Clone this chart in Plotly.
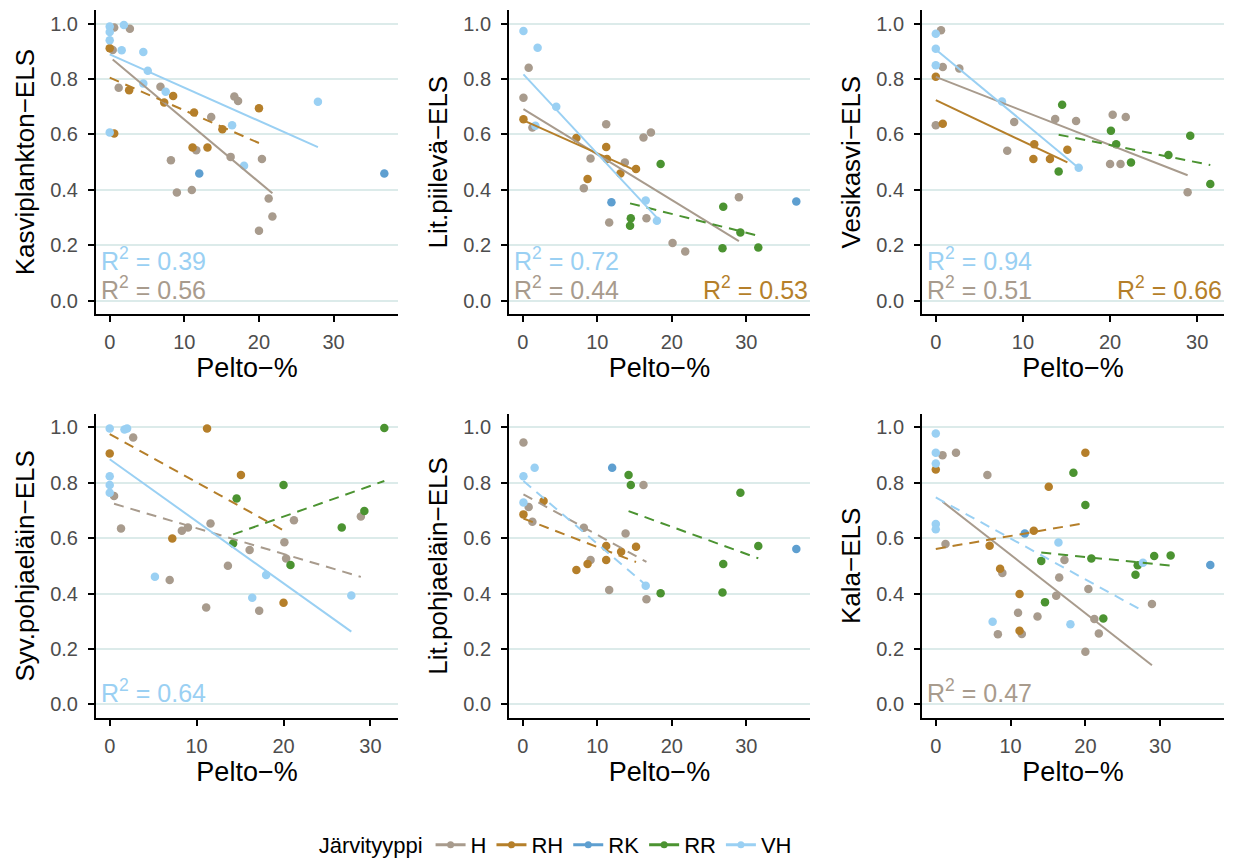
import plotly.graph_objects as go

# ---------------- categories / styling ----------------
groups = ["H", "RH", "RK", "RR", "VH"]
group_colors = ["#A89B8D", "#B57F2A", "#5E9FD0", "#4B9331", "#9AD0F3"]
legend_title = "Järvityyppi"

panel_titles = ["Kasviplankton−ELS", "Lit.piilevä−ELS", "Vesikasvi−ELS",
                "Syv.pohjaeläin−ELS", "Lit.pohjaeläin−ELS", "Kala−ELS"]
x_title = "Pelto−%"
y_ticks = [0.0, 0.2, 0.4, 0.6, 0.8, 1.0]
y_tick_labels = ["0.0", "0.2", "0.4", "0.6", "0.8", "1.0"]
x_ticks = [0, 10, 20, 30]
x_tick_labels = ["0", "10", "20", "30"]

# ---------------- Panel 1: Kasviplankton ----------------
kasvi_H_x = [0.6, 2.7, 0.4, 1.2, 6.8, 13.6, 16.7, 17.2, 8.2, 9.0, 11.0, 11.6, 16.2, 20.4, 21.3, 21.8, 20.0]
kasvi_H_y = [0.986, 0.982, 0.905, 0.769, 0.772, 0.663, 0.737, 0.721, 0.507, 0.390, 0.399, 0.543, 0.519, 0.511, 0.369, 0.304, 0.252]
kasvi_RH_x = [0.0, 0.6, 2.6, 7.3, 8.5, 11.3, 11.1, 13.1, 15.1, 20.0]
kasvi_RH_y = [0.911, 0.603, 0.760, 0.715, 0.739, 0.679, 0.553, 0.553, 0.619, 0.695]
kasvi_RK_x = [12.0, 36.8]
kasvi_RK_y = [0.459, 0.459]
kasvi_RR_x = []
kasvi_RR_y = []
kasvi_VH_x = [0.0, 0.0, 0.0, 1.9, 1.6, 4.5, 5.1, 4.5, 7.5, 0.0, 16.4, 18.0, 27.9]
kasvi_VH_y = [0.990, 0.970, 0.940, 0.995, 0.904, 0.898, 0.830, 0.784, 0.754, 0.607, 0.633, 0.487, 0.718]
kasvi_fit_groups = ["H", "RH", "VH"]
kasvi_fit_b0 = [0.880, 0.805, 0.889]
kasvi_fit_b1 = [-0.0226, -0.0118, -0.0120]
kasvi_fit_signif = [True, False, True]
kasvi_r2_groups = ["VH", "H"]
kasvi_r2_values = ["0.39", "0.56"]

# ---------------- Panel 2: Lit.piilevä ----------------
piile_H_x = [0.8, 0.1, 1.3, 11.2, 9.1, 8.2, 13.7, 16.2, 17.2, 11.6, 16.6, 20.1, 21.8, 29.0]
piile_H_y = [0.841, 0.733, 0.625, 0.637, 0.513, 0.406, 0.499, 0.589, 0.607, 0.282, 0.297, 0.208, 0.177, 0.373]
piile_RH_x = [0.1, 7.2, 8.7, 11.2, 11.3, 13.1, 15.2]
piile_RH_y = [0.655, 0.587, 0.439, 0.555, 0.511, 0.459, 0.475]
piile_RK_x = [11.9, 36.7]
piile_RK_y = [0.355, 0.358]
piile_RR_x = [18.5, 14.4, 14.5, 26.9, 29.2, 26.8, 31.6]
piile_RR_y = [0.493, 0.270, 0.297, 0.339, 0.246, 0.189, 0.192]
piile_VH_x = [0.1, 2.0, 4.5, 1.7, 16.5, 18.0]
piile_VH_y = [0.974, 0.913, 0.700, 0.631, 0.361, 0.288]
piile_fit_groups = ["H", "RH", "RR", "VH"]
piile_fit_b0 = [0.693, 0.652, 0.449, 0.820]
piile_fit_b1 = [-0.0165, -0.0120, -0.0068, -0.0289]
piile_fit_signif = [True, True, False, True]
piile_r2_groups = ["VH", "H", "RH"]
piile_r2_values = ["0.72", "0.44", "0.53"]

# ---------------- Panel 3: Vesikasvi ----------------
vesik_H_x = [0.6, 0.8, 2.7, 0.0, 9.0, 8.2, 13.7, 16.1, 20.3, 21.8, 20.0, 21.2, 28.9]
vesik_H_y = [0.976, 0.844, 0.838, 0.633, 0.645, 0.541, 0.656, 0.649, 0.671, 0.663, 0.493, 0.493, 0.391]
vesik_RH_x = [0.0, 0.8, 11.3, 11.2, 13.1, 15.1]
vesik_RH_y = [0.808, 0.639, 0.565, 0.511, 0.511, 0.545]
vesik_RK_x = []
vesik_RK_y = []
vesik_RR_x = [14.5, 14.1, 20.1, 20.7, 22.4, 26.7, 29.2, 31.5]
vesik_RR_y = [0.707, 0.466, 0.613, 0.565, 0.499, 0.526, 0.595, 0.421]
vesik_VH_x = [0.0, 0.0, 0.0, 7.6, 16.4]
vesik_VH_y = [0.964, 0.910, 0.850, 0.719, 0.480]
vesik_fit_groups = ["H", "RH", "RR", "VH"]
vesik_fit_b0 = [0.808, 0.724, 0.688, 0.907]
vesik_fit_b1 = [-0.0123, -0.0149, -0.0063, -0.0261]
vesik_fit_signif = [True, True, False, True]
vesik_r2_groups = ["VH", "H", "RH"]
vesik_r2_values = ["0.94", "0.51", "0.66"]

# ---------------- Panel 4: Syv.pohjaeläin ----------------
syvpo_H_x = [2.7, 0.5, 1.3, 6.9, 8.3, 9.0, 11.6, 11.1, 13.6, 16.1, 17.2, 20.1, 20.3, 21.2, 28.9]
syvpo_H_y = [0.964, 0.752, 0.635, 0.449, 0.627, 0.639, 0.653, 0.350, 0.500, 0.557, 0.338, 0.585, 0.527, 0.665, 0.678]
syvpo_RH_x = [0.0, 11.2, 15.1, 7.2, 20.0]
syvpo_RH_y = [0.906, 0.996, 0.828, 0.599, 0.367]
syvpo_RK_x = []
syvpo_RK_y = []
syvpo_RR_x = [31.6, 20.0, 14.6, 14.2, 20.8, 26.7, 29.3]
syvpo_RR_y = [0.998, 0.792, 0.743, 0.581, 0.503, 0.639, 0.698]
syvpo_VH_x = [0.0, 1.7, 2.0, 0.0, 0.0, 0.0, 5.2, 18.0, 16.4, 27.8]
syvpo_VH_y = [0.996, 0.993, 0.996, 0.824, 0.792, 0.764, 0.461, 0.467, 0.385, 0.393]
syvpo_fit_groups = ["H", "RH", "RR", "VH"]
syvpo_fit_b0 = [0.729, 0.976, 0.456, 0.885]
syvpo_fit_b1 = [-0.0093, -0.0174, 0.0111, -0.0224]
syvpo_fit_signif = [False, False, False, True]
syvpo_r2_groups = ["VH"]
syvpo_r2_values = ["0.64"]

# ---------------- Panel 5: Lit.pohjaeläin ----------------
litpo_H_x = [0.1, 0.8, 1.3, 8.2, 9.1, 13.8, 16.2, 11.6, 16.6]
litpo_H_y = [0.946, 0.713, 0.659, 0.638, 0.521, 0.617, 0.792, 0.413, 0.379]
litpo_RH_x = [0.1, 2.8, 7.2, 8.7, 11.2, 11.2, 13.2, 15.2]
litpo_RH_y = [0.686, 0.734, 0.485, 0.507, 0.572, 0.521, 0.551, 0.569]
litpo_RK_x = [12.0, 36.7]
litpo_RK_y = [0.854, 0.561]
litpo_RR_x = [14.2, 14.5, 18.5, 29.2, 26.9, 26.8, 31.6]
litpo_RR_y = [0.828, 0.792, 0.401, 0.764, 0.507, 0.404, 0.572]
litpo_VH_x = [0.1, 1.6, 0.1, 16.5]
litpo_VH_y = [0.824, 0.854, 0.729, 0.428]
litpo_fit_groups = ["H", "RH", "RR", "VH"]
litpo_fit_b0 = [0.760, 0.672, 0.837, 0.809]
litpo_fit_b1 = [-0.0148, -0.0104, -0.0098, -0.0229]
litpo_fit_signif = [False, False, False, False]
litpo_r2_groups = []
litpo_r2_values = []

# ---------------- Panel 6: Kala ----------------
kala_H_x = [0.9, 2.7, 6.9, 1.3, 8.9, 8.3, 11.0, 11.5, 13.6, 16.5, 16.1, 17.2, 20.4, 20.0, 21.2, 21.8, 28.9]
kala_H_y = [0.900, 0.909, 0.828, 0.579, 0.474, 0.253, 0.331, 0.254, 0.317, 0.458, 0.392, 0.521, 0.416, 0.190, 0.308, 0.256, 0.362]
kala_RH_x = [0.0, 20.0, 15.1, 13.1, 7.2, 8.6, 11.2, 11.2]
kala_RH_y = [0.848, 0.909, 0.786, 0.627, 0.573, 0.490, 0.398, 0.266]
kala_RK_x = [11.9, 36.7]
kala_RK_y = [0.617, 0.503]
kala_RR_x = [18.4, 20.0, 14.1, 20.8, 14.6, 22.4, 26.7, 27.0, 29.2, 31.4]
kala_RR_y = [0.836, 0.720, 0.518, 0.527, 0.369, 0.310, 0.468, 0.502, 0.536, 0.537]
kala_VH_x = [0.0, 0.0, 0.0, 0.0, 0.0, 7.6, 16.4, 18.0, 27.7]
kala_VH_y = [0.978, 0.909, 0.870, 0.651, 0.632, 0.298, 0.584, 0.289, 0.511]
kala_fit_groups = ["H", "RH", "RR", "VH"]
kala_fit_b0 = [0.751, 0.561, 0.586, 0.747]
kala_fit_b1 = [-0.0211, 0.0047, -0.0027, -0.0148]
kala_fit_signif = [True, False, False, False]
kala_r2_groups = ["H"]
kala_r2_values = ["0.47"]

# ---------------- assemble ----------------
panel_points = [
    {"H": (kasvi_H_x, kasvi_H_y), "RH": (kasvi_RH_x, kasvi_RH_y), "RK": (kasvi_RK_x, kasvi_RK_y),
     "RR": (kasvi_RR_x, kasvi_RR_y), "VH": (kasvi_VH_x, kasvi_VH_y)},
    {"H": (piile_H_x, piile_H_y), "RH": (piile_RH_x, piile_RH_y), "RK": (piile_RK_x, piile_RK_y),
     "RR": (piile_RR_x, piile_RR_y), "VH": (piile_VH_x, piile_VH_y)},
    {"H": (vesik_H_x, vesik_H_y), "RH": (vesik_RH_x, vesik_RH_y), "RK": (vesik_RK_x, vesik_RK_y),
     "RR": (vesik_RR_x, vesik_RR_y), "VH": (vesik_VH_x, vesik_VH_y)},
    {"H": (syvpo_H_x, syvpo_H_y), "RH": (syvpo_RH_x, syvpo_RH_y), "RK": (syvpo_RK_x, syvpo_RK_y),
     "RR": (syvpo_RR_x, syvpo_RR_y), "VH": (syvpo_VH_x, syvpo_VH_y)},
    {"H": (litpo_H_x, litpo_H_y), "RH": (litpo_RH_x, litpo_RH_y), "RK": (litpo_RK_x, litpo_RK_y),
     "RR": (litpo_RR_x, litpo_RR_y), "VH": (litpo_VH_x, litpo_VH_y)},
    {"H": (kala_H_x, kala_H_y), "RH": (kala_RH_x, kala_RH_y), "RK": (kala_RK_x, kala_RK_y),
     "RR": (kala_RR_x, kala_RR_y), "VH": (kala_VH_x, kala_VH_y)},
]
panel_fits = [
    (kasvi_fit_groups, kasvi_fit_b0, kasvi_fit_b1, kasvi_fit_signif),
    (piile_fit_groups, piile_fit_b0, piile_fit_b1, piile_fit_signif),
    (vesik_fit_groups, vesik_fit_b0, vesik_fit_b1, vesik_fit_signif),
    (syvpo_fit_groups, syvpo_fit_b0, syvpo_fit_b1, syvpo_fit_signif),
    (litpo_fit_groups, litpo_fit_b0, litpo_fit_b1, litpo_fit_signif),
    (kala_fit_groups, kala_fit_b0, kala_fit_b1, kala_fit_signif),
]
panel_r2 = [
    (kasvi_r2_groups, kasvi_r2_values), (piile_r2_groups, piile_r2_values),
    (vesik_r2_groups, vesik_r2_values), (syvpo_r2_groups, syvpo_r2_values),
    (litpo_r2_groups, litpo_r2_values), (kala_r2_groups, kala_r2_values),
]

color_of = dict(zip(groups, group_colors))
FONT = "Liberation Sans, Arial, sans-serif"
TICK_GREY = "#4D4D4D"
GRID = "#DCEBEA"

col_dom = [(0.0776, 0.3218), (0.4115, 0.6548), (0.7454, 0.9895)]
row_dom = [(0.634, 0.9885), (0.164, 0.5185)]

fig = go.Figure()
layout_axes = {}
annotations = []

for i in range(6):
    n = i + 1
    xa = "x" if n == 1 else f"x{n}"
    ya = "y" if n == 1 else f"y{n}"
    pts = panel_points[i]

    # points
    for g in groups:
        xs, ys = pts[g]
        if len(xs) == 0:
            continue
        fig.add_trace(go.Scatter(x=xs, y=ys, mode="markers", xaxis=xa, yaxis=ya,
                                 marker=dict(color=color_of[g], size=8.5, line=dict(width=0)),
                                 showlegend=False, hoverinfo="x+y", name=g))

    # regression lines
    fg, b0s, b1s, sig = panel_fits[i]
    for g, b0, b1, s in zip(fg, b0s, b1s, sig):
        xs = pts[g][0]
        x0, x1 = min(xs), max(xs)
        fig.add_trace(go.Scatter(x=[x0, x1], y=[b0 + b1 * x0, b0 + b1 * x1], mode="lines",
                                 xaxis=xa, yaxis=ya,
                                 line=dict(color=color_of[g], width=2,
                                           dash="solid" if s else "10px,7px"),
                                 showlegend=False, hoverinfo="skip", name=g))

    # axis ranges from data (5 % expansion)
    all_x = [v for g in groups for v in pts[g][0]]
    xmin, xmax = 0.0, max(all_x)
    pad = 0.05 * (xmax - xmin)

    c, r = i % 3, i // 3
    layout_axes["xaxis" if n == 1 else f"xaxis{n}"] = dict(
        domain=list(col_dom[c]), anchor=ya, range=[xmin - pad, xmax + pad],
        tickvals=x_ticks, ticktext=x_tick_labels, showgrid=False, zeroline=False,
        showline=True, linecolor="black", linewidth=2, ticks="outside", ticklen=6,
        tickwidth=1.6, tickcolor="black", ticklabelstandoff=3,
        tickfont=dict(family=FONT, size=20, color=TICK_GREY),
        title=dict(text=x_title, font=dict(family=FONT, size=27, color="black"), standoff=5),
    )
    layout_axes["yaxis" if n == 1 else f"yaxis{n}"] = dict(
        domain=list(row_dom[r]), anchor=xa, range=[-0.05, 1.05],
        tickvals=y_ticks, ticktext=y_tick_labels, showgrid=True, gridcolor=GRID, gridwidth=1.8,
        zeroline=False, showline=True, linecolor="black", linewidth=2, ticks="outside",
        ticklen=6, tickwidth=1.6, tickcolor="black", ticklabelstandoff=6,
        tickfont=dict(family=FONT, size=20, color=TICK_GREY),
        title=dict(text=panel_titles[i], font=dict(family=FONT, size=26, color="black"), standoff=8),
    )

    # R² labels
    rg, rv = panel_r2[i]
    n_left = sum(1 for g in rg if g != "RH")
    for g, v in zip(rg, rv):
        if g == "RH":
            xpos, xanchor, ypos = 1.0, "right", 0.047
        elif g == "VH" and n_left > 1:
            xpos, xanchor, ypos = 0.01, "left", 0.15
        else:
            xpos, xanchor, ypos = 0.01, "left", 0.047
        annotations.append(dict(
            text=f"R<sup>2</sup> = {v}", x=xpos, y=ypos,
            xref=("x" if n == 1 else f"x{n}") + " domain", yref=ya,
            xanchor=xanchor, yanchor="middle", showarrow=False,
            font=dict(family=FONT, size=25, color=color_of[g])))

# legend-only traces
for g in groups:
    fig.add_trace(go.Scatter(x=[None], y=[None], mode="lines+markers", name=g,
                             line=dict(color=color_of[g], width=3),
                             marker=dict(color=color_of[g], size=7), showlegend=True))

fig.update_layout(
    width=1237, height=866,
    margin=dict(l=0, r=0, t=0, b=0),
    paper_bgcolor="white", plot_bgcolor="white",
    font=dict(family=FONT),
    showlegend=True,
    legend=dict(orientation="h", x=0.45, xanchor="center", y=0.016, yanchor="middle",
                title=dict(text=legend_title, side="left", font=dict(family=FONT, size=22, color="black")),
                font=dict(family=FONT, size=22, color="black"), itemwidth=30,
                bgcolor="rgba(0,0,0,0)"),
    annotations=annotations,
    **layout_axes,
)

fig.write_html("out.html")
